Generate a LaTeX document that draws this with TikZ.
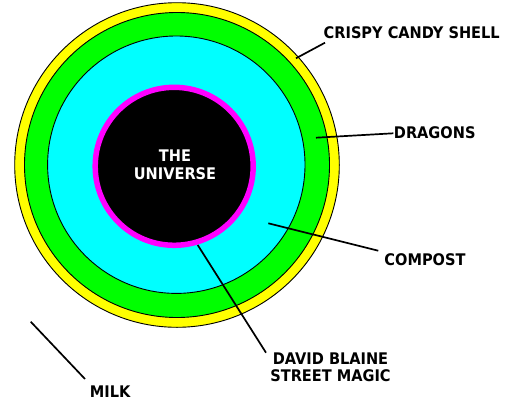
\documentclass[tikz,border=0pt]{standalone}
\usepackage{fontspec}
\setmainfont{DejaVu Sans}
\definecolor{ryellow}{RGB}{255,255,0}
\definecolor{rgreen}{RGB}{0,255,0}
\definecolor{rcyan}{RGB}{0,255,255}
\definecolor{rmagenta}{RGB}{255,0,255}
\begin{document}
\begin{tikzpicture}[x=1pt,y=-1pt,
  ring/.style={draw=black,line width=0.9pt},
  lbl/.style={inner sep=0pt,font=\fontsize{16}{17.7}\selectfont\bfseries,align=center,xscale=0.91},
  conn/.style={draw=black,line width=1.7pt}]
\useasboundingbox (0,0) rectangle (511,407);
\fill[white] (0,0) rectangle (511,407);
% rings
\path[ring,fill=ryellow] (177,165) circle (162.3);
\path[ring,fill=rgreen] (177,165) circle (152.5);
\path[ring,fill=rcyan] (176.3,164.7) circle (128.7);
\fill[black] (174.2,166.3) circle (79);
\draw[rmagenta,line width=5.5pt] (174.2,166.3) circle (79);
% labels
\node[lbl,text=white] (universe) at (175,164.5) {THE\\UNIVERSE};
\node[lbl] (shell) at (411.7,32.5) {CRISPY CANDY SHELL};
\node[lbl] (dragons) at (434.7,132.5) {DRAGONS};
\node[lbl] (compost) at (425,260) {COMPOST};
\node[lbl] (blaine) at (330.5,367.2) {DAVID BLAINE\\STREET MAGIC};
\node[lbl] (milk) at (110.2,392) {MILK};
% connector end points
\coordinate (s1) at (325,42.7);
\coordinate (s2) at (296,58.3);
\coordinate (d1) at (316,137.7);
\coordinate (d2) at (393.3,133.3);
\coordinate (c1) at (268.3,223.3);
\coordinate (c2) at (378.3,250.7);
\coordinate (b1) at (197.7,245);
\coordinate (b2) at (266,352.7);
\coordinate (m1) at (30.7,321.7);
\coordinate (m2) at (85,379);
\draw[conn] (s1) -- (s2);
\draw[conn] (d1) -- (d2);
\draw[conn] (c1) -- (c2);
\draw[conn] (b1) -- (b2);
\draw[conn] (m1) -- (m2);
\end{tikzpicture}
\end{document}
